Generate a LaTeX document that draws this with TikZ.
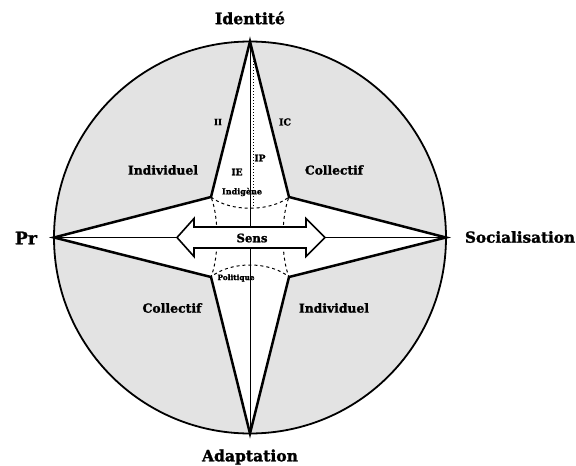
\documentclass[tikz,border=0pt]{standalone}
\usepackage{fontspec}
\setmainfont{DejaVu Serif}[BoldFeatures={FakeBold=1.5}]
\usetikzlibrary{calc}
\newcommand{\fitw}[2]{\resizebox{#1pt}{!}{\bfseries #2}}
\begin{document}
\begin{tikzpicture}[x=1pt,y=-1pt,
  bigedge/.style={line width=2.5pt,line join=miter},
  thinline/.style={line width=0.9pt},
  lbl/.style={inner sep=0pt,font=\bfseries},
]
\useasboundingbox (0,0) rectangle (576,466);
% key points
\coordinate (C) at (250,237.5);
\coordinate (T) at (250,41.5);
\coordinate (B) at (250,433.5);
\coordinate (L) at (54,237.5);
\coordinate (R) at (446,237.5);
\coordinate (UL) at (211,197);
\coordinate (UR) at (289,197);
\coordinate (LL) at (211,277);
\coordinate (LR) at (289,277);
% shaded disc
\fill[gray!22] (C) circle (196);
% star interior
\fill[white] (T) -- (UR) -- (R) -- (LR) -- (B) -- (LL) -- (L) -- (UL) -- cycle;
% axes
\draw[thinline] (T) -- (B);
\draw[thinline] (L) -- (R);
\draw[line width=1pt,dotted] (253.5,55) -- (253.5,208);
% dashed concave square
\draw[dashed,line width=1pt] (UL) .. controls (230,212) and (270,212) .. (UR)
  .. controls (281,217) and (281,257) .. (LR)
  .. controls (270,261) and (230,261) .. (LL)
  .. controls (219,257) and (219,217) .. (UL);
% star outline
\draw[bigedge] (T) -- (UR) -- (R) -- (LR) -- (B) -- (LL) -- (L) -- (UL) -- cycle;
% circle
\draw[line width=1.8pt] (C) circle (196);
% double arrow Sens
\draw[line width=1.6pt,fill=white,line join=miter]
  (177,237.5) -- (194,218.5) -- (194,227) -- (306,227) -- (306,218.5) -- (325,237.5)
  -- (306,256.5) -- (306,248) -- (194,248) -- (194,256.5) -- cycle;
\node[lbl] (sens) at (252,238) {\fitw{31}{Sens}};
% outer labels
\node[lbl] (id) at (250,18) {\fitw{70}{Identité}};
\node[lbl] (ad) at (250,457) {\fitw{96}{Adaptation}};
\node[lbl] (pr) at (26,238) {\fitw{22}{Pr}};
\node[lbl] (so) at (520,237) {\fitw{110}{Socialisation}};
% quadrant labels
\node[lbl] (i1) at (163,170) {\fitw{70}{Individuel}};
\node[lbl] (c1) at (334,170) {\fitw{58}{Collectif}};
\node[lbl] (c2) at (172,308) {\fitw{59}{Collectif}};
\node[lbl] (i2) at (334,308) {\fitw{70}{Individuel}};
% inner labels
\node[lbl] (ii) at (218,122) {\fitw{8}{II}};
\node[lbl] (ic) at (285,122) {\fitw{12}{IC}};
\node[lbl] (ip) at (260,158) {\fitw{11}{IP}};
\node[lbl] (ie) at (237,172) {\fitw{11}{IE}};
\node[lbl] (imag) at (242,192) {\fitw{40}{Indigène}};
\node[lbl] (pol) at (236,278) {\fitw{37}{Politique}};
\end{tikzpicture}
\end{document}
